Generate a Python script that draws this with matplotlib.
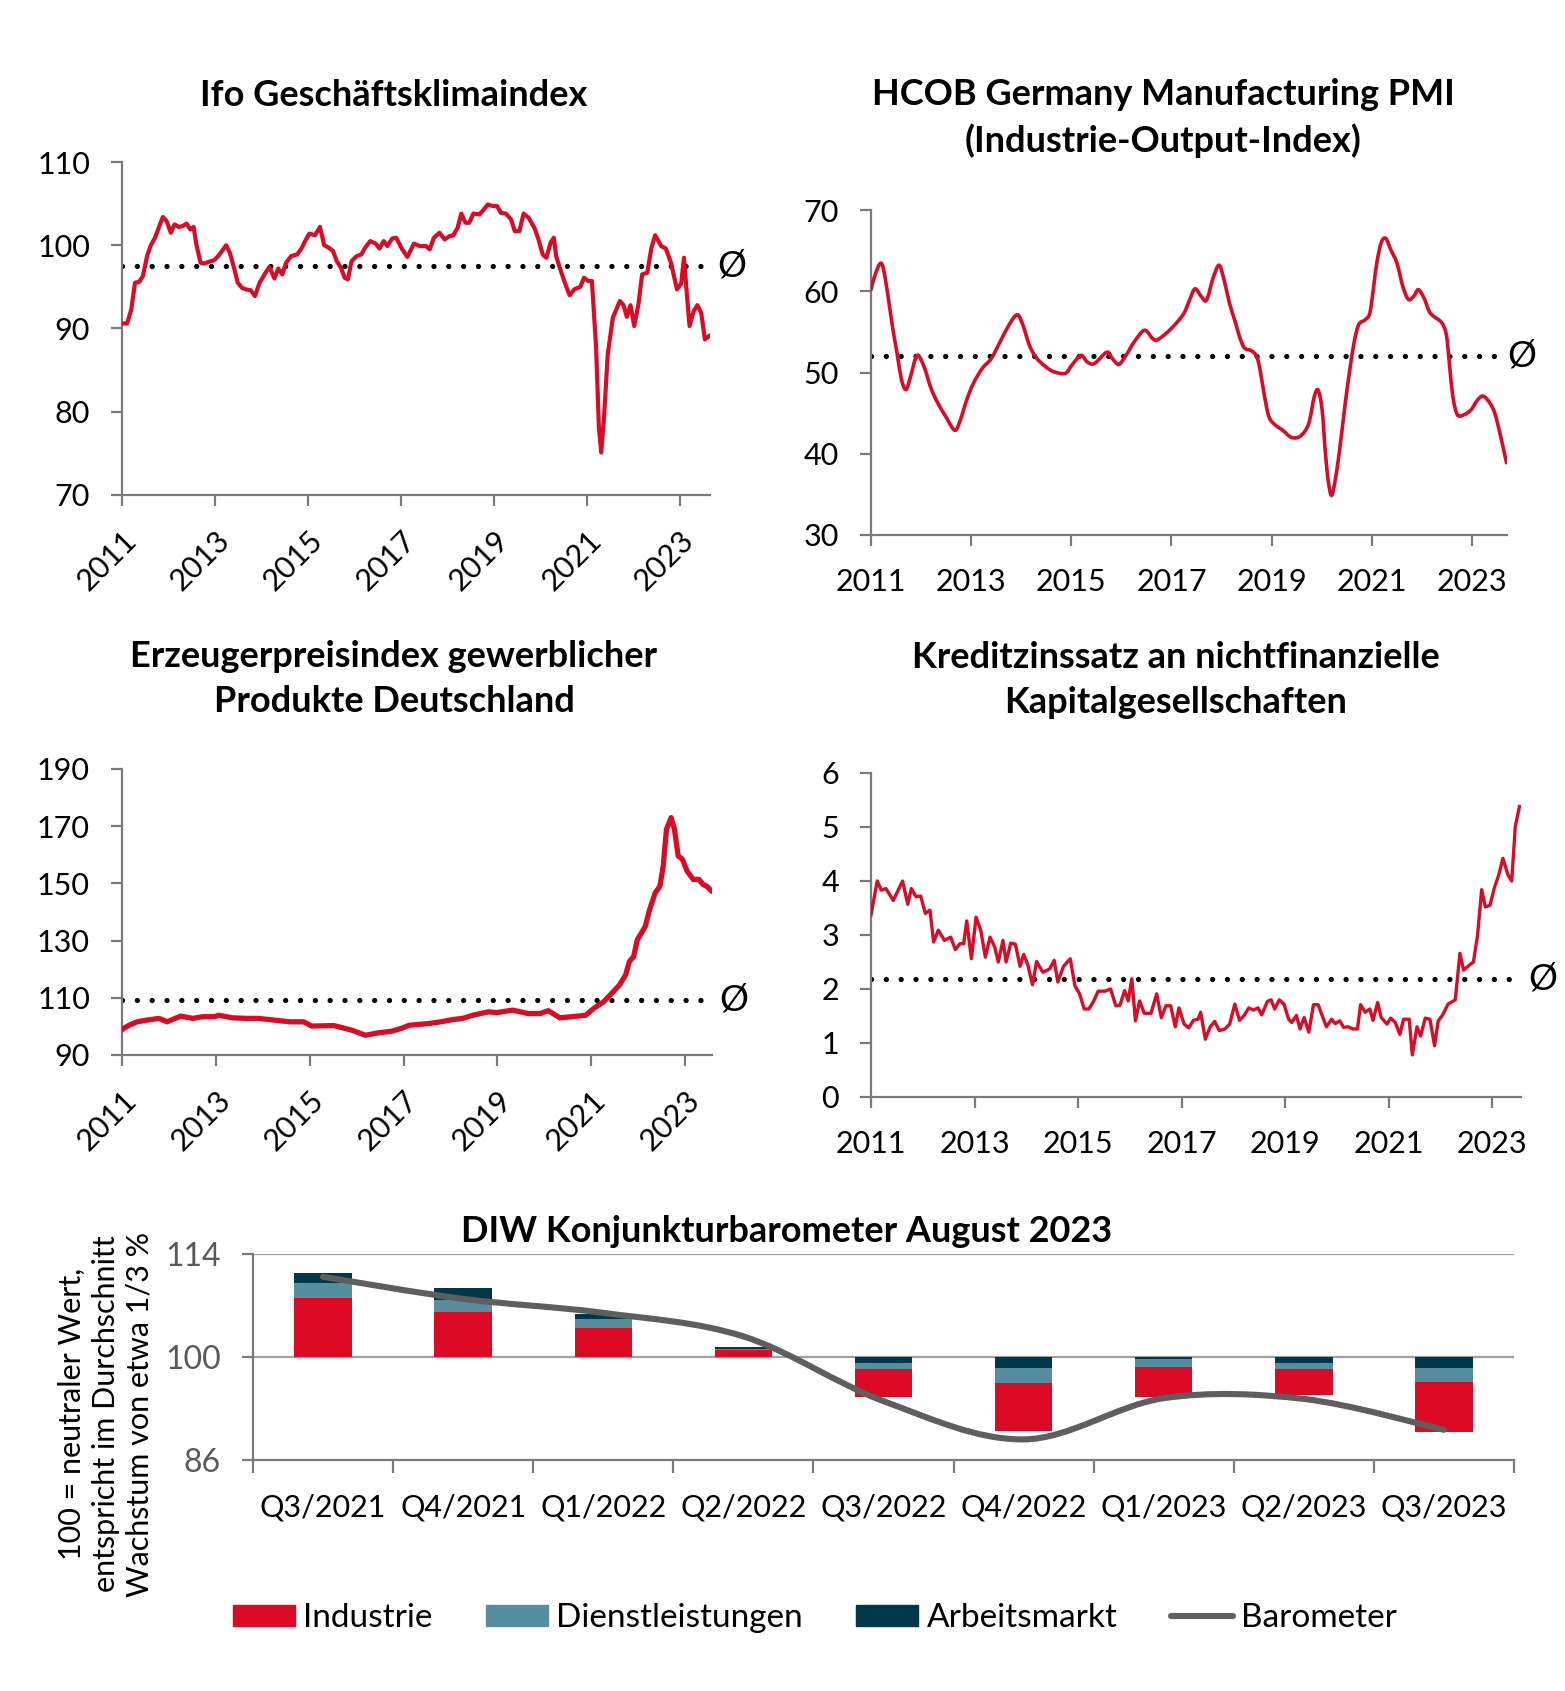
import numpy as np
import matplotlib
matplotlib.use("Agg")
import matplotlib.pyplot as plt
from matplotlib.path import Path
from matplotlib.patches import PathPatch, Patch
from matplotlib.lines import Line2D
import matplotlib.transforms as mtransforms

# ---- data ----
ifo_t = [2011.03, 2011.11, 2011.20, 2011.28, 2011.37, 2011.45, 2011.54, 2011.62, 2011.71, 2011.79,
         2011.88, 2011.96, 2012.05, 2012.13, 2012.22, 2012.30, 2012.39, 2012.47, 2012.54, 2012.60,
         2012.69, 2012.77, 2012.86, 2012.98, 2013.07, 2013.15, 2013.24, 2013.32, 2013.41, 2013.49,
         2013.58, 2013.66, 2013.77, 2013.86, 2013.96, 2014.09, 2014.17, 2014.28, 2014.36, 2014.45,
         2014.53, 2014.64, 2014.77, 2014.86, 2014.94, 2015.03, 2015.15, 2015.26, 2015.35, 2015.45,
         2015.54, 2015.62, 2015.71, 2015.79, 2015.86, 2015.94, 2016.05, 2016.15, 2016.23, 2016.34,
         2016.46, 2016.54, 2016.63, 2016.71, 2016.81, 2016.90, 2017.03, 2017.14, 2017.28, 2017.41,
         2017.54, 2017.62, 2017.71, 2017.83, 2017.94, 2018.05, 2018.13, 2018.22, 2018.30, 2018.39,
         2018.47, 2018.56, 2018.69, 2018.77, 2018.87, 2018.98, 2019.07, 2019.15, 2019.26, 2019.37,
         2019.45, 2019.55, 2019.64, 2019.75, 2019.88, 2019.96, 2020.05, 2020.13, 2020.22, 2020.29,
         2020.34, 2020.43, 2020.54, 2020.63, 2020.73, 2020.86, 2020.94, 2021.03, 2021.11, 2021.20,
         2021.26, 2021.31, 2021.37, 2021.45, 2021.56, 2021.71, 2021.79, 2021.86, 2021.94, 2022.02,
         2022.11, 2022.19, 2022.30, 2022.39, 2022.47, 2022.60, 2022.70, 2022.81, 2022.94, 2023.03,
         2023.09, 2023.15, 2023.21, 2023.30, 2023.38, 2023.46, 2023.54, 2023.63]
ifo_v = [90.6, 90.6, 92.3, 95.5, 95.6, 96.3, 98.7, 100.0, 100.9, 102.1,
         103.4, 102.9, 101.5, 102.5, 102.2, 102.3, 102.6, 101.9, 102.2, 100.1,
         97.9, 97.8, 98.0, 98.2, 98.7, 99.3, 100.0, 99.1, 97.3, 95.5,
         94.9, 94.7, 94.6, 93.9, 95.5, 96.7, 97.4, 96.0, 97.2, 96.5,
         97.9, 98.7, 98.9, 99.6, 100.5, 101.4, 101.2, 102.2, 100.0, 99.7,
         99.3, 98.1, 97.3, 96.1, 95.9, 98.1, 98.7, 98.9, 99.7, 100.5,
         100.2, 99.6, 100.5, 99.9, 100.8, 100.9, 99.5, 98.6, 100.2, 99.9,
         99.9, 99.5, 100.9, 101.5, 100.7, 101.1, 101.2, 102.1, 103.8, 102.7,
         102.7, 103.8, 103.7, 104.2, 104.9, 104.7, 104.7, 103.9, 103.8, 103.1,
         101.7, 101.7, 103.8, 103.3, 102.0, 100.7, 98.9, 98.5, 100.3, 100.9,
         98.7, 97.1, 95.3, 94.0, 94.7, 95.0, 96.1, 95.7, 95.7, 87.7,
         78.1, 75.1, 79.3, 86.9, 91.3, 93.3, 92.8, 91.4, 92.8, 90.3,
         92.9, 96.5, 96.7, 99.7, 101.2, 99.9, 99.6, 97.9, 94.7, 95.4,
         98.5, 94.3, 90.3, 92.1, 92.8, 91.9, 88.7, 89.1]
ifo_avg = 97.5

pmi_t = [2011.00, 2011.07, 2011.18, 2011.25, 2011.34, 2011.43, 2011.52, 2011.61, 2011.70, 2011.79,
         2011.92, 2012.06, 2012.19, 2012.32, 2012.50, 2012.67, 2012.77, 2012.91, 2013.04, 2013.22,
         2013.40, 2013.58, 2013.76, 2013.92, 2014.03, 2014.16, 2014.29, 2014.47, 2014.65, 2014.88,
         2015.01, 2015.19, 2015.32, 2015.46, 2015.71, 2015.82, 2015.95, 2016.09, 2016.26, 2016.46,
         2016.62, 2016.71, 2016.89, 2017.07, 2017.25, 2017.36, 2017.47, 2017.59, 2017.70, 2017.83,
         2017.95, 2018.05, 2018.16, 2018.28, 2018.37, 2018.46, 2018.59, 2018.70, 2018.77, 2018.86,
         2018.95, 2019.08, 2019.22, 2019.40, 2019.58, 2019.74, 2019.85, 2019.93, 2020.01, 2020.07,
         2020.13, 2020.20, 2020.29, 2020.38, 2020.47, 2020.56, 2020.65, 2020.74, 2020.87, 2020.96,
         2021.03, 2021.10, 2021.19, 2021.28, 2021.38, 2021.50, 2021.62, 2021.73, 2021.84, 2021.93,
         2022.04, 2022.15, 2022.24, 2022.40, 2022.49, 2022.55, 2022.62, 2022.71, 2022.84, 2022.98,
         2023.11, 2023.22, 2023.34, 2023.45, 2023.56, 2023.69]
pmi_v = [60.2, 61.8, 63.4, 62.7, 59.4, 55.6, 52.4, 49.1, 47.9, 49.5,
         52.1, 50.7, 48.2, 46.4, 44.5, 42.9, 43.9, 46.6, 48.6, 50.5,
         51.7, 53.8, 55.9, 57.1, 55.9, 53.4, 51.9, 50.8, 50.1, 49.9,
         50.9, 52.1, 51.3, 51.1, 52.5, 51.7, 51.0, 52.1, 53.8, 55.2,
         54.2, 54.0, 54.8, 55.9, 57.3, 58.9, 60.3, 59.4, 58.9, 61.6,
         63.2, 61.4, 58.5, 56.1, 54.2, 53.0, 52.7, 52.0, 50.3, 47.0,
         44.5, 43.5, 42.9, 42.0, 42.2, 43.7, 47.0, 47.8, 45.3, 40.4,
         36.7, 34.9, 37.5, 41.6, 46.2, 50.3, 53.8, 55.9, 56.5, 57.3,
         60.2, 63.5, 66.0, 66.5, 65.1, 63.5, 60.6, 59.0, 59.4, 60.2,
         59.2, 57.5, 56.9, 56.1, 54.6, 51.1, 47.0, 44.8, 44.8, 45.4,
         46.6, 47.1, 46.4, 45.1, 42.5, 38.9]
pmi_avg = 52.0

ppi_t = [2011.00, 2011.15, 2011.32, 2011.53, 2011.79, 2011.96, 2012.25, 2012.51, 2012.72, 2012.97,
         2013.06, 2013.35, 2013.65, 2013.90, 2014.24, 2014.58, 2014.87, 2015.04, 2015.51, 2015.68,
         2015.89, 2016.19, 2016.44, 2016.74, 2016.95, 2017.12, 2017.54, 2017.79, 2018.05, 2018.26,
         2018.47, 2018.81, 2018.98, 2019.32, 2019.65, 2019.91, 2020.08, 2020.33, 2020.59, 2020.88,
         2021.05, 2021.26, 2021.43, 2021.60, 2021.73, 2021.81, 2021.90, 2021.98, 2022.15, 2022.24,
         2022.36, 2022.46, 2022.53, 2022.60, 2022.70, 2022.77, 2022.85, 2022.94, 2023.04, 2023.17,
         2023.29, 2023.38, 2023.46, 2023.55]
ppi_v = [98.9, 100.4, 101.6, 102.2, 102.8, 101.6, 103.6, 102.8, 103.4, 103.4,
         103.9, 103.0, 102.8, 102.8, 102.2, 101.6, 101.6, 100.1, 100.3, 99.6,
         98.7, 96.9, 97.7, 98.3, 99.3, 100.4, 101.0, 101.6, 102.4, 102.8,
         103.9, 105.1, 104.8, 105.7, 104.5, 104.5, 105.5, 103.0, 103.4, 103.9,
         106.3, 108.6, 111.5, 114.5, 118.0, 122.7, 124.4, 130.3, 135.0, 140.8,
         146.7, 149.0, 156.0, 168.9, 173.0, 168.9, 159.6, 158.4, 154.3, 151.4,
         151.4, 149.6, 149.0, 147.5]
ppi_avg = 109.4

kredit_t = [2011.00, 2011.12, 2011.20, 2011.29, 2011.43, 2011.61, 2011.71, 2011.78, 2011.87, 2011.96,
            2012.05, 2012.14, 2012.21, 2012.30, 2012.42, 2012.54, 2012.63, 2012.72, 2012.79, 2012.85,
            2012.94, 2013.03, 2013.12, 2013.21, 2013.30, 2013.39, 2013.46, 2013.55, 2013.61, 2013.70,
            2013.79, 2013.88, 2013.95, 2014.03, 2014.12, 2014.20, 2014.32, 2014.45, 2014.54, 2014.61,
            2014.72, 2014.85, 2014.94, 2015.03, 2015.12, 2015.21, 2015.30, 2015.39, 2015.52, 2015.63,
            2015.73, 2015.81, 2015.90, 2015.97, 2016.04, 2016.11, 2016.19, 2016.28, 2016.41, 2016.52,
            2016.61, 2016.70, 2016.79, 2016.88, 2016.95, 2017.05, 2017.14, 2017.23, 2017.32, 2017.37,
            2017.46, 2017.55, 2017.64, 2017.73, 2017.84, 2017.93, 2018.03, 2018.12, 2018.21, 2018.30,
            2018.39, 2018.48, 2018.55, 2018.66, 2018.73, 2018.80, 2018.89, 2018.98, 2019.07, 2019.13,
            2019.22, 2019.29, 2019.37, 2019.46, 2019.55, 2019.64, 2019.80, 2019.90, 2019.97, 2020.06,
            2020.13, 2020.22, 2020.31, 2020.40, 2020.46, 2020.55, 2020.64, 2020.70, 2020.79, 2020.86,
            2020.97, 2021.04, 2021.13, 2021.22, 2021.29, 2021.40, 2021.46, 2021.55, 2021.62, 2021.71,
            2021.80, 2021.89, 2021.96, 2022.04, 2022.15, 2022.29, 2022.38, 2022.45, 2022.56, 2022.64,
            2022.72, 2022.80, 2022.87, 2022.96, 2023.05, 2023.13, 2023.21, 2023.31, 2023.38, 2023.45,
            2023.53]
kredit_v = [3.37, 4.00, 3.83, 3.86, 3.64, 4.00, 3.57, 3.86, 3.71, 3.72,
            3.40, 3.46, 2.87, 3.09, 2.90, 2.96, 2.73, 2.84, 2.84, 3.26,
            2.56, 3.33, 3.09, 2.59, 2.96, 2.78, 2.50, 2.90, 2.50, 2.85,
            2.83, 2.42, 2.64, 2.45, 2.08, 2.51, 2.31, 2.37, 2.53, 2.13,
            2.42, 2.56, 2.06, 1.91, 1.63, 1.63, 1.77, 1.96, 1.96, 2.00,
            1.69, 1.70, 1.97, 1.78, 2.19, 1.41, 1.78, 1.55, 1.55, 1.91,
            1.47, 1.69, 1.69, 1.30, 1.65, 1.35, 1.28, 1.42, 1.44, 1.57,
            1.07, 1.29, 1.40, 1.23, 1.26, 1.35, 1.72, 1.42, 1.51, 1.65,
            1.61, 1.65, 1.52, 1.77, 1.80, 1.63, 1.80, 1.72, 1.44, 1.38,
            1.51, 1.26, 1.47, 1.20, 1.71, 1.71, 1.30, 1.44, 1.36, 1.41,
            1.29, 1.30, 1.26, 1.26, 1.71, 1.57, 1.63, 1.42, 1.75, 1.47,
            1.35, 1.46, 1.38, 1.16, 1.44, 1.44, 0.78, 1.30, 1.13, 1.46,
            1.44, 0.95, 1.41, 1.51, 1.72, 1.80, 2.66, 2.35, 2.44, 2.50,
            2.99, 3.84, 3.52, 3.55, 3.89, 4.11, 4.42, 4.11, 4.00, 5.01,
            5.38]
kredit_avg = 2.19

quarters = ["Q3/2021", "Q4/2021", "Q1/2022", "Q2/2022", "Q3/2022",
            "Q4/2022", "Q1/2023", "Q2/2023", "Q3/2023"]
industrie = [8.0, 6.1, 4.0, 0.95, -3.8, -6.6, -4.1, -3.6, -6.75]
dienstleistungen = [2.0, 1.7, 1.1, 0.2, -0.82, -1.96, -1.05, -0.73, -1.83]
arbeitsmarkt = [1.4, 1.6, 0.7, 0.2, -0.87, -1.55, -0.3, -0.87, -1.55]
barometer = [110.9, 107.9, 106.0, 102.8, 94.0, 88.8, 94.4, 94.3, 90.1]

year_ticks = [2011, 2013, 2015, 2017, 2019, 2021, 2023]

RED = "#dc0a24"
TEAL = "#548e9f"
NAVY = "#00374b"
GREY_LINE = "#5e5e5e"
AXIS = "#7a7a7a"
TICK_FS = 22
TITLE_FS = 26

plt.rcParams["font.family"] = ["Lato", "DejaVu Sans"]

W, H = 1565, 1691
fig = plt.figure(figsize=(W / 100, H / 100), dpi=100)


def add_axes(left, top, right, bottom):
    # pixel box -> figure fraction
    return fig.add_axes([left / W, 1 - bottom / H, (right - left) / W, (bottom - top) / H])


def smooth_path(x, y):
    # Excel-like smoothed line: Catmull-Rom segments drawn as cubic Beziers
    n = len(x)
    verts = [(x[0], y[0])]
    codes = [Path.MOVETO]
    for i in range(n - 1):
        xa, ya = (x[i - 1], y[i - 1]) if i > 0 else (x[i], y[i])
        xd, yd = (x[i + 2], y[i + 2]) if i + 2 < n else (x[i + 1], y[i + 1])
        verts.append((x[i] + (x[i + 1] - xa) / 6, y[i] + (y[i + 1] - ya) / 6))
        verts.append((x[i + 1] - (xd - x[i]) / 6, y[i + 1] - (yd - y[i]) / 6))
        verts.append((x[i + 1], y[i + 1]))
        codes += [Path.CURVE4] * 3
    return Path(verts, codes)


def style_panel(ax, ylim, yticks, xmax, rotate):
    ax.set_xlim(2011, xmax)
    ax.set_ylim(*ylim)
    ax.set_yticks(yticks)
    ax.set_xticks(year_ticks)
    for s in ("top", "right"):
        ax.spines[s].set_visible(False)
    for s in ("left", "bottom"):
        ax.spines[s].set_color(AXIS)
        ax.spines[s].set_linewidth(1.6)
    ax.tick_params(axis="both", colors=AXIS, width=1.6, length=8,
                   labelcolor="black", labelsize=TICK_FS)
    ax.tick_params(axis="y", pad=15)
    if rotate:
        ax.tick_params(axis="x", pad=14)
        for lab in ax.get_xticklabels():
            lab.set_rotation(45)
            lab.set_ha("right")
            lab.set_va("top")
            lab.set_rotation_mode("anchor")
    else:
        ax.tick_params(axis="x", pad=16)
    ax.patch.set_visible(False)


def avg_line(ax, value, gap=5):
    ax.axhline(value, color="black", lw=3.8, ls=(0, (0.01, 2.8)),
               dash_capstyle="round", zorder=1)
    tr = mtransforms.blended_transform_factory(ax.transAxes, ax.transData)
    ax.annotate("Ø", xy=(1, value), xycoords=tr, xytext=(gap, 0),
                textcoords="offset points", ha="left", va="center",
                fontsize=26, fontweight="normal", color="black")


def title(x, y, text):
    fig.text(x / W, 1 - y / H, text, ha="center", va="center",
             fontsize=TITLE_FS, fontweight="bold", linespacing=1.43)


# Ifo
ax1 = add_axes(122, 162, 710, 495)
ax1.plot(ifo_t, ifo_v, color=RED, lw=3.0, solid_joinstyle="round", zorder=3)
avg_line(ax1, ifo_avg)
style_panel(ax1, (70, 110), [70, 80, 90, 100, 110], 2023.65, True)
title(394, 95, "Ifo Geschäftsklimaindex")

# PMI
ax2 = add_axes(871, 210, 1507, 535)
ax2.add_patch(PathPatch(smooth_path(pmi_t, pmi_v), facecolor="none",
                        edgecolor=RED, lw=2.6, capstyle="round", zorder=3))
avg_line(ax2, pmi_avg, gap=0)
style_panel(ax2, (30, 70), [30, 40, 50, 60, 70], 2023.7, False)
title(1163, 118, "HCOB Germany Manufacturing PMI\n(Industrie-Output-Index)")

# Erzeugerpreisindex
ax3 = add_axes(122, 769, 712, 1055)
ax3.plot(ppi_t, ppi_v, color=RED, lw=3.8, solid_joinstyle="round", zorder=3)
avg_line(ax3, ppi_avg)
style_panel(ax3, (90, 190), [90, 110, 130, 150, 170, 190], 2023.57, True)
title(394, 679, "Erzeugerpreisindex gewerblicher\nProdukte Deutschland")

# Kreditzinssatz
ax4 = add_axes(871, 773, 1521, 1097)
ax4.plot(kredit_t, kredit_v, color=RED, lw=2.4, solid_joinstyle="round", zorder=3)
avg_line(ax4, kredit_avg)
style_panel(ax4, (0, 6), [0, 1, 2, 3, 4, 5, 6], 2023.56, False)
title(1176, 680, "Kreditzinssatz an nichtfinanzielle\nKapitalgesellschaften")

# DIW Konjunkturbarometer
ax5 = add_axes(253, 1254, 1514, 1460)
ind = np.array(industrie)
dl = np.array(dienstleistungen)
am = np.array(arbeitsmarkt)
up = ind >= 0
# positive quarters stack Industrie first, negative ones hang Arbeitsmarkt first
b_ind = np.where(up, 100, 100 + am + dl)
b_dl = np.where(up, 100 + ind, 100 + am)
b_am = np.where(up, 100 + ind + dl, 100)
x = np.arange(len(quarters))
bw = 0.41
ax5.bar(x, ind, bw, bottom=b_ind, color=RED, zorder=2, label="Industrie")
ax5.bar(x, dl, bw, bottom=b_dl, color=TEAL, zorder=2, label="Dienstleistungen")
ax5.bar(x, am, bw, bottom=b_am, color=NAVY, zorder=2, label="Arbeitsmarkt")
ax5.add_patch(PathPatch(smooth_path(list(x), barometer), facecolor="none",
                        edgecolor=GREY_LINE, lw=4.4, capstyle="round", zorder=4))
for g in (114, 100):
    ax5.axhline(g, color="#a0a0a0", lw=1.6, zorder=1)
ax5.set_xlim(-0.5, len(quarters) - 0.5)
ax5.set_ylim(86, 114)
ax5.set_yticks([86, 100, 114])
ax5.set_xticks(x, quarters)
ax5.set_xticks(np.arange(len(quarters) + 1) - 0.5, minor=True)
for s in ("top", "right"):
    ax5.spines[s].set_visible(False)
for s in ("left", "bottom"):
    ax5.spines[s].set_color(AXIS)
    ax5.spines[s].set_linewidth(1.6)
ax5.tick_params(axis="x", which="major", length=0, pad=24, labelsize=TICK_FS)
ax5.tick_params(axis="x", which="minor", length=9, width=1.6, color=AXIS)
ax5.tick_params(axis="y", length=8, width=1.6, color=AXIS, labelcolor="#595959",
                labelsize=23, pad=15)
ax5.set_ylabel("100 = neutraler Wert,\nentspricht im Durchschnitt\nWachstum von etwa 1/3 %",
               fontsize=22, linespacing=1.25)
ax5.yaxis.set_label_coords(-0.079, 0.223)
fig.text(787 / W, 1 - 1231 / H, "DIW Konjunkturbarometer August 2023",
         ha="center", va="center", fontsize=TITLE_FS, fontweight="bold")

handles = [Patch(color=RED), Patch(color=TEAL), Patch(color=NAVY),
           Line2D([], [], color=GREY_LINE, lw=4.4, solid_capstyle="round")]
fig.legend(handles, ["Industrie", "Dienstleistungen", "Arbeitsmarkt", "Barometer"],
           loc="center", bbox_to_anchor=(815 / W, 1 - 1618 / H), ncol=4,
           frameon=False, fontsize=24, handlelength=1.85, handleheight=0.6,
           handletextpad=0.26, columnspacing=1.6)

fig.savefig("out.png", dpi=100)
